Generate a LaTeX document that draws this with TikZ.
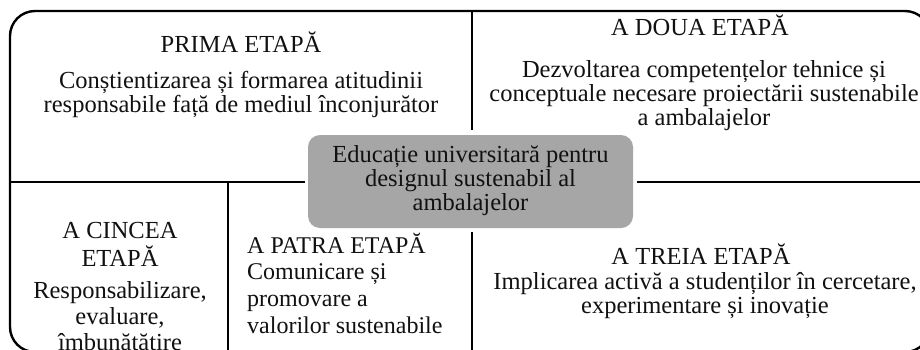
\documentclass[tikz,border=0pt]{standalone}
\usepackage{fontspec}
\setmainfont{Liberation Serif}
\definecolor{boxgray}{HTML}{A6A6A6}
\definecolor{ink}{HTML}{111111}
\tikzset{
  txt/.style={anchor=base, inner sep=0pt, text=ink, font=\fontsize{24.5}{24}\selectfont},
  txtl/.style={anchor=base west, inner sep=0pt, text=ink, font=\fontsize{24}{26.7}\selectfont},
  frame/.style={line width=2.4pt, rounded corners=25pt},
  divider/.style={line width=2.2pt},
  centrebox/.style={fill=boxgray, rounded corners=12pt, minimum width=325pt, minimum height=93pt, inner sep=0pt, text=ink, font=\fontsize{24.5}{24}\selectfont}
}
\begin{document}
\begin{tikzpicture}[x=1pt,y=-1pt]
\useasboundingbox (0,0) rectangle (920,349);
\clip (0,0) rectangle (920,349);
\fill[white] (0,0) rectangle (920,349);
% outer frame
\draw[frame] (10,11) rectangle (930,352);
% centre box
\node[centrebox] (c) at (470.5,181.5) {\begin{tabular}{@{}c@{}}Educație universitară pentru\\designul sustenabil al\\ambalajelor\end{tabular}};
% divider end points
\coordinate (topv1) at (472,11);
\coordinate (topv2) at (472,130);
\coordinate (botv1) at (472,232);
\coordinate (botv2) at (472,352);
\coordinate (lh1) at (10,182);
\coordinate (lh2) at (305,182);
\coordinate (rh1) at (637,182);
\coordinate (rh2) at (930,182);
\coordinate (lv1) at (228,182);
\coordinate (lv2) at (228,352);
\draw[divider] (topv1) -- (topv2);
\draw[divider] (botv1) -- (botv2);
\draw[divider] (lh1) -- (lh2);
\draw[divider] (rh1) -- (rh2);
\draw[divider] (lv1) -- (lv2);
% stage 1
\node[txt] (t1) at (241,52) {PRIMA ETAPĂ};
\node[txt] (b1) at (241,88) {\begin{tabular}[t]{@{}c@{}}Conștientizarea și formarea atitudinii\\responsabile față de mediul înconjurător\end{tabular}};
% stage 2
\node[txt] (t2) at (700,35) {A DOUA ETAPĂ};
\node[txt] (b2) at (704,77) {\begin{tabular}[t]{@{}c@{}}Dezvoltarea competențelor tehnice și\\conceptuale necesare proiectării sustenabile\\a ambalajelor\end{tabular}};
% stage 3
\node[txt] (t3) at (701,264) {A TREIA ETAPĂ};
\node[txt] (b3) at (705,289) {\begin{tabular}[t]{@{}c@{}}Implicarea activă a studenților în cercetare,\\experimentare și inovație\end{tabular}};
% stage 4
\node[txtl] (t4) at (247,253) {\begin{tabular}[t]{@{}l@{}}A PATRA ETAPĂ\\Comunicare și\\promovare a\\valorilor sustenabile\end{tabular}};
% stage 5
\node[txt, font=\fontsize{24.5}{25}\selectfont] (t5) at (120,238) {\begin{tabular}[t]{@{}c@{}}A CINCEA\\ETAPĂ\end{tabular}};
\node[txt, font=\fontsize{24.5}{26}\selectfont] (b5) at (120,298) {\begin{tabular}[t]{@{}c@{}}Responsabilizare,\\evaluare,\\îmbunătățire\end{tabular}};
\end{tikzpicture}
\end{document}
